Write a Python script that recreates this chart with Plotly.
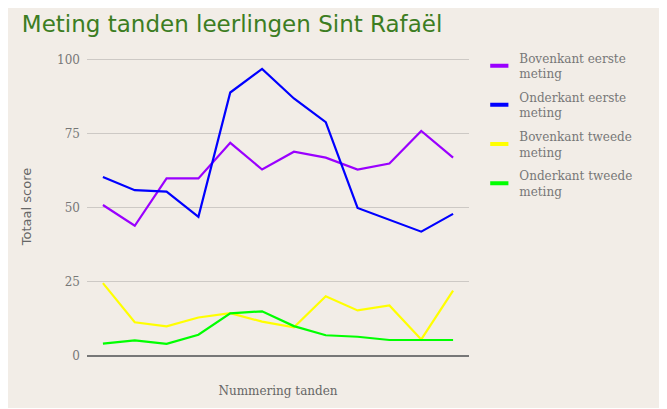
import plotly.graph_objects as go

tanden = list(range(1, 13))
bovenkant_eerste = [51, 44, 60, 60, 72, 63, 69, 67, 63, 65, 76, 67]
onderkant_eerste = [60.5, 56, 55.5, 47, 89, 97, 87, 79, 50, 46, 42, 48]
bovenkant_tweede = [24.6, 11.4, 10, 13, 14.5, 11.6, 9.7, 20.2, 15.4, 17.1, 5.6, 22.1]
onderkant_tweede = [4.2, 5.3, 4.1, 7.2, 14.4, 15.1, 10.1, 7.0, 6.5, 5.4, 5.4, 5.4]
y_ticks = [0, 25, 50, 75, 100]

series = [
    ("Bovenkant eerste<br>meting", bovenkant_eerste, "#9a00ff"),
    ("Onderkant eerste<br>meting", onderkant_eerste, "#0000ff"),
    ("Bovenkant tweede<br>meting", bovenkant_tweede, "#ffff00"),
    ("Onderkant tweede<br>meting", onderkant_tweede, "#00ff00"),
]

fig = go.Figure()
for name, vals, col in series:
    fig.add_trace(go.Scatter(x=tanden, y=vals, name=name, mode="lines",
                             line=dict(color=col, width=2.2), showlegend=False))
# legend entries drawn as short thick bars
for i, (name, vals, col) in enumerate(series):
    fig.add_trace(go.Scatter(x=[None], y=[None], name=name, mode="markers",
                             legendgroup=f"g{i}",
                             marker=dict(symbol="line-ew", size=13,
                                         line=dict(color=col, width=4))))

bg = "#f2ede7"
serif = "DejaVu Serif, serif"
fig.update_layout(
    width=657, height=400,
    paper_bgcolor=bg, plot_bgcolor=bg,
    margin=dict(l=79, r=196, t=49, b=52),
    title=dict(text="Meting tanden leerlingen Sint Rafaël", x=0.021, xanchor="left",
               y=0.96, yanchor="middle",
               font=dict(family="DejaVu Sans", size=23, color="#3c7d22")),
    font=dict(family=serif, color="#777777", size=12),
    legend=dict(x=1.027, y=1.045, xanchor="left", yanchor="top",
                font=dict(family=serif, size=12, color="#777777"),
                tracegroupgap=5, itemwidth=30),
    showlegend=True,
)
fig.update_xaxes(range=[0.5, 12.5], showticklabels=False, showgrid=False,
                 zeroline=False, showline=False,
                 title=dict(text="Nummering tanden", standoff=30,
                            font=dict(family=serif, size=12, color="#666666")))
fig.update_yaxes(range=[0, 101], tickvals=y_ticks, showgrid=True, gridcolor="#cdc9c5",
                 gridwidth=1.3, zeroline=True, zerolinecolor="#777777", zerolinewidth=2,
                 ticklabelstandoff=6,
                 tickfont=dict(family=serif, size=12, color="#777777"),
                 title=dict(text="Totaal score", standoff=22,
                            font=dict(family="DejaVu Sans", size=13, color="#666666")))

fig.write_html("out.html")
